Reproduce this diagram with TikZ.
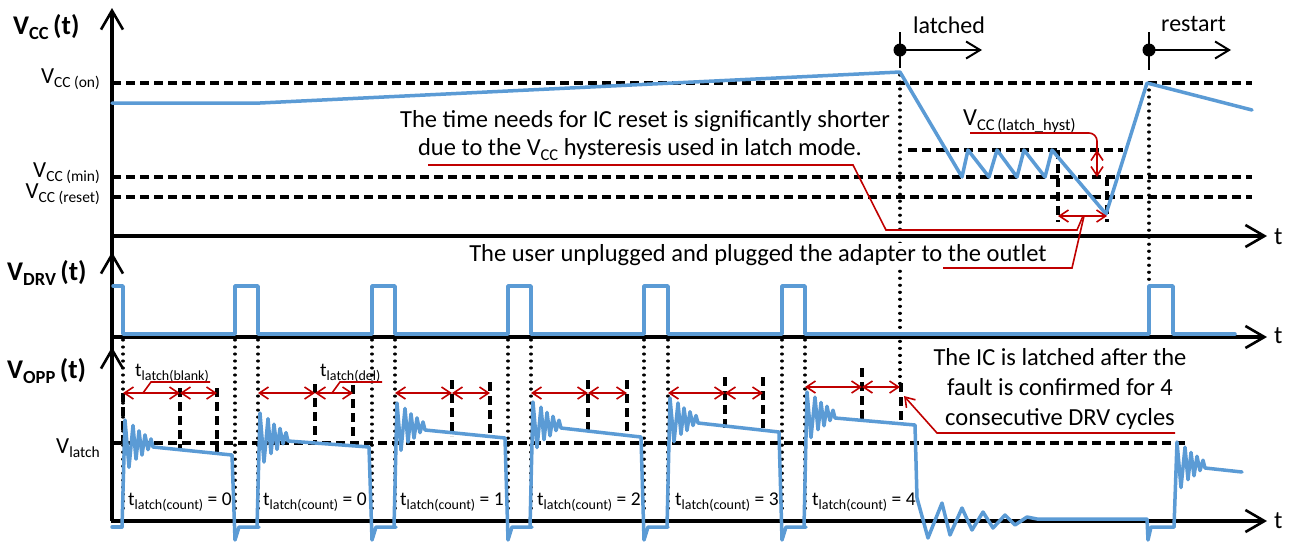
\documentclass[tikz,border=0pt]{standalone}
\usepackage{fontspec}
\setmainfont{Carlito}
\usetikzlibrary{arrows.meta}
\definecolor{wavec}{RGB}{91,155,213}
\definecolor{notec}{RGB}{192,0,0}
\newcommand\mainsize{\fontsize{24.5}{28}\selectfont}
\newcommand\subsz{\fontsize{16.5}{17}\selectfont}
\newcommand\lowsub[1]{\raisebox{-5pt}{\subsz #1}}
\newcommand\lblsize{\fontsize{23}{26}\selectfont}
\newcommand\lblsub[1]{\raisebox{-4.5pt}{\fontsize{15.5}{16}\selectfont #1}}
\newcommand\tsize{\fontsize{19.5}{22}\selectfont}
\newcommand\tsub[1]{\raisebox{-4pt}{\fontsize{14}{15}\selectfont #1}}
\newcommand\titlesz{\fontsize{27}{30}\selectfont\bfseries}
\newcommand\titlesub[1]{\raisebox{-5.5pt}{\fontsize{18.5}{19}\selectfont\bfseries #1}}
\tikzset{
  axisarr/.style={line width=3.2pt,-{Straight Barb[length=19pt,width=22pt,line width=2.6pt]}},
  lvl/.style={line width=3.2pt,dash pattern=on 9pt off 5pt},
  thickdash/.style={line width=3.6pt,dash pattern=on 9pt off 5pt},
  dots/.style={line width=3.2pt,line cap=round,dash pattern=on 0.01pt off 7pt},
  wv/.style={wavec,line width=3.5pt,line join=round,line cap=round},
  redl/.style={notec,line width=1.6pt},
  redarr/.style={notec,line width=1.6pt,{Straight Barb[length=9pt,width=12pt]}-{Straight Barb[length=9pt,width=12pt]}},
  redtip/.style={notec,line width=1.6pt,-{Straight Barb[length=9pt,width=12pt]}},
  markarr/.style={line width=2pt,-{Straight Barb[length=14pt,width=17pt]}},
  txt/.style={font=\mainsize,inner sep=0pt},
  lbl/.style={font=\lblsize,inner sep=0pt},
  tl/.style={font=\tsize,inner sep=0pt},
  wtxt/.style={font=\mainsize,inner sep=1pt,fill=white},
}
\newcommand\oppcyc[5]{%
\draw[wv] ({#1-1},527) -- ({#1+2},{#3-#2}) -- ({#1+6},{#3+0.75*#2}) -- ({#1+10},{#3-0.8*#2}) -- ({#1+13},{#3+0.45*#2}) -- ({#1+16},{#3-0.6*#2}) -- ({#1+19},{#3+0.3*#2}) -- ({#1+22},{#3-0.45*#2}) -- ({#1+25},{#3+0.1*#2}) -- ({#1+28},{#3-0.3*#2}) -- ({#1+30},{#3}) -- ({#5-3},#4) -- ({#5},540) -- ({#5+4},527) -- ({#5+24},527);}
\newcommand\ringonly[3]{%
\draw[wv] ({#1-1},527) -- ({#1+2},{#3-#2}) -- ({#1+6},{#3+0.75*#2}) -- ({#1+10},{#3-0.8*#2}) -- ({#1+13},{#3+0.45*#2}) -- ({#1+16},{#3-0.6*#2}) -- ({#1+19},{#3+0.3*#2}) -- ({#1+22},{#3-0.45*#2}) -- ({#1+25},{#3+0.1*#2}) -- ({#1+28},{#3-0.3*#2}) -- ({#1+30},{#3});}
\begin{document}
\begin{tikzpicture}[x=1pt,y=-1pt]
\useasboundingbox[fill=white] (0,0) rectangle (1294,542);

% ---------- dotted guide lines ----------
\draw[dots] (900,75) -- (900,385);
\draw[dots] (1149,90) -- (1149,285);
\foreach \xx in {123,235,258,372,395,508,531,644,668,782,805}
  \draw[dots] (\xx,340) -- (\xx,515);

% ---------- axes ----------
\draw[axisarr] (112,521) -- (112,8);
\draw[axisarr] (112,290) -- (112,252);
\draw[axisarr] (112,390) -- (112,347);
\draw[axisarr] (111,236) -- (1267,236);
\draw[axisarr] (111,337) -- (1267,337);
\draw[axisarr] (111,521) -- (1267,521);
\node[font=\fontsize{25}{28}\selectfont,inner sep=0pt,anchor=base west] (t1) at (1274,244) {t};
\node[font=\fontsize{25}{28}\selectfont,inner sep=0pt,anchor=base west] (t2) at (1274,343) {t};
\node[font=\fontsize{25}{28}\selectfont,inner sep=0pt,anchor=base west] (t3) at (1274,528) {t};

% ---------- titles ----------
\node[inner sep=0pt,anchor=base west] (vcct) at (13,34) {\titlesz V\titlesub{CC}\,(t)};
\node[inner sep=0pt,anchor=base west] (vdrvt) at (7,280) {\titlesz V\titlesub{DRV}\,(t)};
\node[inner sep=0pt,anchor=base west] (voppt) at (7,378) {\titlesz V\titlesub{OPP}\,(t)};

% ---------- Vcc levels ----------
\draw[lvl] (112,83) -- (1252,83);
\draw[lvl] (112,177) -- (1252,177);
\draw[lvl] (112,197) -- (1252,197);
\draw[lvl] (908,150) -- (1123,150);
\node[lbl,anchor=base east] (lon) at (100,83) {V\lblsub{CC (on)}};
\node[lbl,anchor=base east] (lmin) at (100,177) {V\lblsub{CC (min)}};
\node[lbl,anchor=base east] (lres) at (100,198) {V\lblsub{CC (reset)}};
\draw[thickdash] (1058,150) -- (1058,222);
\draw[thickdash] (1107,177) -- (1107,222);

% Vcc waveform
\draw[wv] (112,103) -- (260,103) -- (900,72) -- (962,177) -- (968,150) -- (989,177) -- (997,150) -- (1017,177) -- (1024,150) -- (1045,177) -- (1052,150) -- (1106,214) -- (1147,83) -- (1252,110);

% latched / restart markers
\draw[line width=2pt] (900,32) -- (900,68);
\draw[markarr] (900,50) -- (982,50);
\fill (900,50) circle (6.5);
\node[lbl,font=\fontsize{24}{28}\selectfont,anchor=base west] (latched) at (913,33) {latched};
\draw[line width=2pt] (1149,32) -- (1149,70);
\draw[markarr] (1149,50) -- (1231,50);
\fill (1149,50) circle (6.5);
\node[lbl,font=\fontsize{24}{28}\selectfont,anchor=base west] (restart) at (1161,31) {restart};

% hysteresis annotation
\node[txt,anchor=base west] (hyst) at (963,125) {V\lowsub{CC\,(latch\_hyst)}};
\draw[redl,rounded corners=8pt] (970,133) -- (1097,133) -- (1097,151);
\draw[redarr] (1097,150) -- (1097,177);
\draw[redarr] (1058,216) -- (1107,216);

% notes
\node[txt,anchor=base] (note1) at (645,127) {The time needs for IC reset is significantly shorter};
\node[txt,anchor=base] (note2) at (640,155) {due to the V\lowsub{CC} hysteresis used in latch mode.};
\draw[redl] (428,165) -- (853,165) -- (886,230) -- (1077,230) -- (1083,216);
\node[wtxt,anchor=base] (note3) at (758,261) {The user unplugged and plugged the adapter to the outlet};
\draw[redl] (943,268) -- (1072,268) -- (1084,216);

% ---------- DRV waveform ----------
\draw[wv] (113,286) -- (123,286) -- (123,334) -- (235,334) -- (235,286) -- (258,286) -- (258,334)
  -- (372,334) -- (372,286) -- (395,286) -- (395,334)
  -- (508,334) -- (508,286) -- (531,286) -- (531,334)
  -- (644,334) -- (644,286) -- (668,286) -- (668,334)
  -- (782,334) -- (782,286) -- (805,286) -- (805,334)
  -- (1149,334) -- (1149,286) -- (1173,286) -- (1173,334) -- (1235,334);

% ---------- OPP ----------
\draw[lvl] (112,443) -- (1188,443);
\node[lbl,anchor=base east] (vlatch) at (100,453) {V\lblsub{latch}};

% dashed markers
\draw[thickdash] (123,393) -- (123,446);
\draw[thickdash] (180,388) -- (180,450);
\draw[thickdash] (217,388) -- (217,453);
\draw[thickdash] (315,384) -- (315,443);
\draw[thickdash] (353,385) -- (353,446);
\draw[thickdash] (452,380) -- (452,436);
\draw[thickdash] (490,382) -- (490,437);
\draw[thickdash] (588,380) -- (588,432);
\draw[thickdash] (627,380) -- (627,435);
\draw[thickdash] (725,377) -- (725,428);
\draw[thickdash] (763,377) -- (763,432);
\draw[thickdash] (862,368) -- (862,420);
\draw[thickdash] (901,383) -- (901,423);

% red interval arrows
\draw[redarr] (123,393) -- (180,393);
\draw[redarr] (180,393) -- (217,393);
\draw[redarr] (258,393) -- (315,393);
\draw[redarr] (315,393) -- (353,393);
\draw[redarr] (395,393) -- (452,393);
\draw[redarr] (452,393) -- (490,393);
\draw[redarr] (531,393) -- (588,393);
\draw[redarr] (588,393) -- (627,393);
\draw[redarr] (668,393) -- (725,393);
\draw[redarr] (725,393) -- (763,393);
\draw[redarr] (805,387) -- (862,387);
\draw[redarr] (862,387) -- (900,387);

% labels of intervals
\node[tl,anchor=base west] (tblank) at (135,376) {t\tsub{latch(blank)}};
\draw[redl] (143,393) -- (151,382) -- (210,382);
\node[tl,anchor=base west] (tdel) at (320,376) {t\tsub{latch(del)}};
\draw[redl] (332,393) -- (340,382) -- (382,382);

% OPP waveform
\draw[wv] (112,527) -- (122,527);
\oppcyc{123}{27}{447}{455}{235}
\oppcyc{258}{28}{441}{447}{372}
\oppcyc{395}{27}{430}{438}{508}
\oppcyc{531}{26}{428}{437}{644}
\oppcyc{668}{25}{423}{432}{782}
\ringonly{805}{26}{418}
\draw[wv] (835,418) -- (915,425) -- (917,498) -- (928,538) -- (942,503) -- (950,535) -- (962,508) -- (972,530) -- (983,512) -- (993,528) -- (1005,515) -- (1015,525) -- (1027,517) -- (1037,519) -- (1147,519) -- (1148,540) -- (1151,527) -- (1174,527);
\ringonly{1175}{26}{468}
\draw[wv] (1205,468) -- (1242,472);

% count labels
\node[tl,anchor=base west] (c0a) at (128,505) {t\tsub{latch(count)} = 0};
\node[tl,anchor=base west] (c0b) at (263,505) {t\tsub{latch(count)} = 0};
\node[tl,anchor=base west] (c1) at (400,505) {t\tsub{latch(count)} = 1};
\node[tl,anchor=base west] (c2) at (537,505) {t\tsub{latch(count)} = 2};
\node[tl,anchor=base west] (c3) at (675,505) {t\tsub{latch(count)} = 3};
\node[tl,anchor=base west] (c4) at (812,505) {t\tsub{latch(count)} = 4};

% IC latched note
\node[txt,anchor=base] (l1) at (1060,365) {The IC is latched after the};
\node[txt,anchor=base] (l2) at (1060,395) {fault is confirmed for 4};
\node[txt,anchor=base] (l3) at (1060,425) {consecutive DRV cycles};
\draw[redtip] (1175,433) -- (937,433) -- (904,396);
\end{tikzpicture}
\end{document}
